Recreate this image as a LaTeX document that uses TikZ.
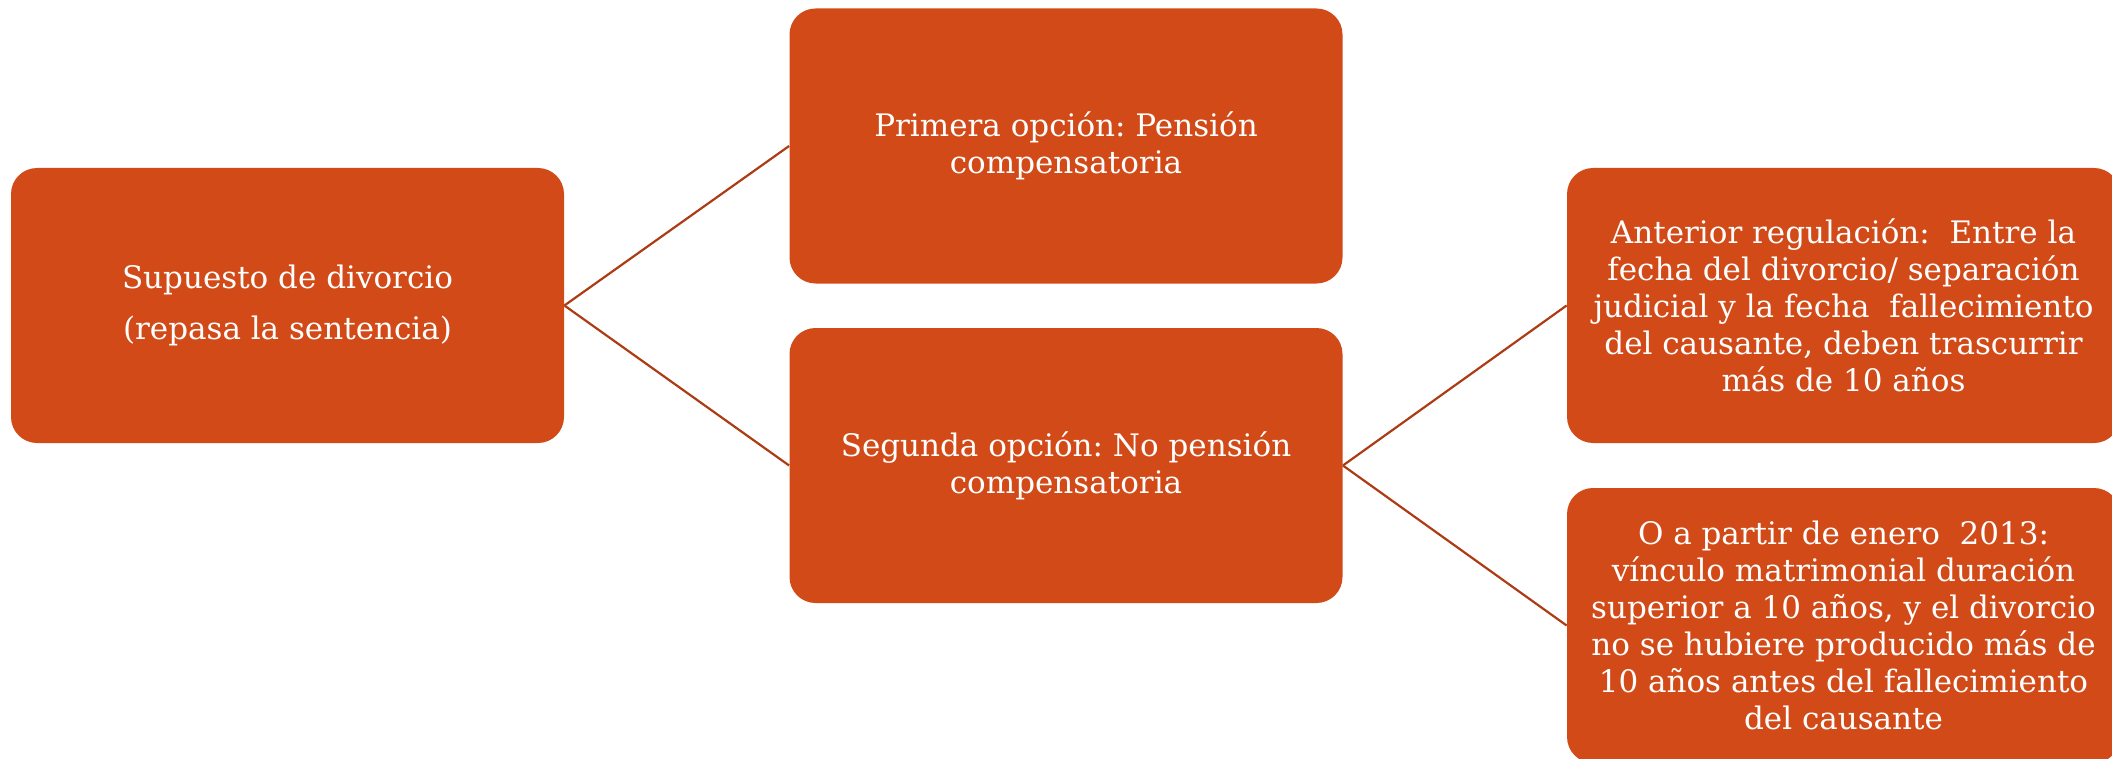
\documentclass[tikz,border=0pt]{standalone}
\usepackage{fontspec}
\setmainfont{DejaVu Serif}
\usepackage{tikz}
\usepackage{color}
\definecolor{cajanaranja}{RGB}{209,74,24}
\definecolor{ramanaranja}{RGB}{172,60,20}
\frenchspacing

\begin{document}
\begin{tikzpicture}[x=1pt,y=1pt,
	caja/.style={rectangle, rounded corners=13pt, fill=cajanaranja, text=white,
		minimum width=276.5pt, minimum height=137.5pt, inner sep=0pt, align=center,
		font=\fontsize{15.5}{18.5}\selectfont},
	rama/.style={draw=ramanaranja, line width=1.1pt}]
				\useasboundingbox (0,0) rectangle (1056,-379.5);
				
				% primer nivel
				\node[caja] (supuesto) at (143.75,-152.75) {Supuesto de divorcio\\[7pt](repasa la sentencia)};
				
				% segundo nivel
				\node[caja] (primera) at (533,-73) {Primera opción: Pensión\\compensatoria};
				\node[caja] (segunda) at (533,-232.75) {Segunda opción: No pensión\\compensatoria};
				
				% tercer nivel
				\node[caja] (anterior) at (921.75,-152.75) {Anterior regulación:~ Entre la\\fecha del divorcio/ separación\\judicial y la fecha~ fallecimiento\\del causante, deben trascurrir\\más de 10 años};
				\node[caja] (enero) at (921.75,-312.75) {O a partir de enero~ 2013:\\vínculo matrimonial duración\\superior a 10 años, y el divorcio\\no se hubiere producido más de\\10 años antes del fallecimiento\\del causante};
				
				\draw[rama] (supuesto.east) -- (primera.west);
				\draw[rama] (supuesto.east) -- (segunda.west);
				\draw[rama] (segunda.east) -- (anterior.west);
				\draw[rama] (segunda.east) -- (enero.west);
			\end{tikzpicture}
\end{document}
